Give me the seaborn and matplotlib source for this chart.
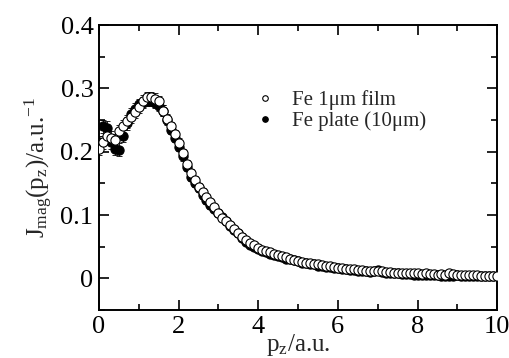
import numpy as np
import pandas as pd
import matplotlib
matplotlib.use("Agg")
import matplotlib.pyplot as plt
import seaborn as sns
from matplotlib.ticker import MultipleLocator
from matplotlib.lines import Line2D

# ---- data ----
pz_film = [round(0.1 * i, 1) for i in range(101)]
j_film = [0.205, 0.215, 0.225, 0.222, 0.218, 0.232, 0.240, 0.248, 0.255, 0.262,
          0.270, 0.280, 0.286, 0.287, 0.284, 0.280, 0.265, 0.252, 0.240, 0.228,
          0.214, 0.198, 0.180, 0.166, 0.155, 0.145, 0.136, 0.128, 0.120, 0.112,
          0.104, 0.096, 0.090, 0.084, 0.078, 0.072, 0.066, 0.060, 0.056, 0.052,
          0.048, 0.045, 0.043, 0.041, 0.039, 0.037, 0.035, 0.033, 0.031, 0.029,
          0.028, 0.026, 0.025, 0.024, 0.023, 0.022, 0.021, 0.020, 0.019, 0.018,
          0.017, 0.016, 0.015, 0.015, 0.014, 0.013, 0.013, 0.012, 0.012, 0.011,
          0.011, 0.012, 0.010, 0.010, 0.009, 0.009, 0.009, 0.008, 0.008, 0.008,
          0.008, 0.007, 0.008, 0.007, 0.007, 0.006, 0.007, 0.006, 0.009, 0.007,
          0.006, 0.006, 0.005, 0.005, 0.005, 0.005, 0.004, 0.004, 0.004, 0.004,
          0.003]
err_film = [0.010, 0.010, 0.010, 0.010, 0.010, 0.010, 0.010, 0.010, 0.009, 0.009,
            0.009, 0.009, 0.008, 0.008, 0.008, 0.008, 0.008, 0.008, 0.007, 0.007,
            0.007, 0.007, 0.007, 0.006, 0.006, 0.006, 0.006, 0.006, 0.006, 0.005,
            0.005, 0.005, 0.005, 0.005, 0.005, 0.005, 0.005, 0.004, 0.004, 0.004,
            0.004, 0.004, 0.004, 0.004, 0.004, 0.004, 0.004, 0.004, 0.004, 0.004,
            0.004, 0.004, 0.004, 0.004, 0.004, 0.004, 0.004, 0.004, 0.004, 0.004,
            0.004, 0.004, 0.004, 0.004, 0.004, 0.004, 0.004, 0.004, 0.004, 0.004,
            0.004, 0.004, 0.004, 0.004, 0.004, 0.004, 0.004, 0.004, 0.004, 0.004,
            0.004, 0.004, 0.004, 0.004, 0.004, 0.004, 0.004, 0.004, 0.004, 0.004,
            0.004, 0.004, 0.004, 0.004, 0.004, 0.004, 0.004, 0.004, 0.004, 0.004,
            0.004]

pz_plate = [round(0.1 * i, 1) for i in range(100)]
j_plate = [0.215, 0.240, 0.238, 0.215, 0.205, 0.203, 0.225, 0.245, 0.260, 0.268,
           0.275, 0.278, 0.280, 0.280, 0.277, 0.272, 0.265, 0.250, 0.235, 0.222,
           0.208, 0.193, 0.176, 0.160, 0.150, 0.142, 0.132, 0.124, 0.116, 0.110,
           0.103, 0.097, 0.090, 0.083, 0.077, 0.071, 0.064, 0.058, 0.053, 0.050,
           0.046, 0.043, 0.041, 0.039, 0.037, 0.035, 0.033, 0.031, 0.030, 0.029,
           0.027, 0.025, 0.024, 0.023, 0.022, 0.020, 0.019, 0.018, 0.018, 0.017,
           0.016, 0.015, 0.014, 0.013, 0.013, 0.012, 0.011, 0.011, 0.010, 0.012,
           0.013, 0.010, 0.009, 0.008, 0.008, 0.008, 0.007, 0.007, 0.007, 0.006,
           0.006, 0.006, 0.005, 0.006, 0.005, 0.005, 0.004, 0.004, 0.004, 0.004,
           0.005, 0.004, 0.004, 0.004, 0.004, 0.004, 0.003, 0.003, 0.003, 0.003]

label_film = "Fe 1\u03bcm film"
label_plate = "Fe plate (10\u03bcm)"
x_ticks = [0, 2, 4, 6, 8, 10]
y_ticks = [0, 0.1, 0.2, 0.3, 0.4]
y_tick_labels = ["0", "0.1", "0.2", "0.3", "0.4"]

df = pd.concat([
    pd.DataFrame({"pz": pz_plate, "J": j_plate, "sample": label_plate}),
    pd.DataFrame({"pz": pz_film, "J": j_film, "sample": label_film}),
])

# ---- style ----
sns.set_theme(style="ticks")
plt.rcParams["font.family"] = ["Liberation Serif", "DejaVu Serif"]
plt.rcParams["mathtext.fontset"] = "custom"
plt.rcParams["mathtext.rm"] = "Liberation Serif"
plt.rcParams["mathtext.it"] = "Liberation Serif:italic"

fig = plt.figure(figsize=(5.10, 3.58), dpi=100)
ax = fig.add_axes([0.194, 0.134, 0.781, 0.796])

# error bars
ax.errorbar(pz_plate, j_plate, yerr=err_film[:100], fmt="none", ecolor="black",
            elinewidth=0.6, capsize=2.5, capthick=0.6, zorder=1)
ax.errorbar(pz_film, j_film, yerr=err_film, fmt="none", ecolor="black",
            elinewidth=0.6, capsize=2.5, capthick=0.6, zorder=1)

sns.scatterplot(data=df[df["sample"] == label_plate], x="pz", y="J", ax=ax,
                color="black", edgecolor="black", s=44, linewidth=0.8,
                zorder=2, legend=False)
sns.scatterplot(data=df[df["sample"] == label_film], x="pz", y="J", ax=ax,
                color="white", edgecolor="black", s=44, linewidth=0.8,
                zorder=3, legend=False)

# legend
handles = [
    Line2D([], [], marker="o", ls="none", mfc="white", mec="black", ms=4, mew=0.8),
    Line2D([], [], marker="o", ls="none", mfc="black", mec="black", ms=4, mew=0.8),
]
ax.legend(handles, [label_film, label_plate], loc="upper left",
          bbox_to_anchor=(0.37, 0.80), frameon=False, fontsize=15,
          handlelength=1.0, handletextpad=0.8, labelspacing=0.05,
          borderaxespad=0)

ax.set_xlim(0, 10)
ax.set_ylim(-0.05, 0.4)
ax.xaxis.set_minor_locator(MultipleLocator(1))
ax.yaxis.set_minor_locator(MultipleLocator(0.05))
ax.set_xticks(x_ticks)
ax.set_xticklabels([str(t) for t in x_ticks])
ax.set_yticks(y_ticks)
ax.set_yticklabels(y_tick_labels)

ax.tick_params(which="both", direction="in", top=True, right=True,
               labelsize=19, colors="black", width=1.2, pad=4)
ax.tick_params(which="major", length=7)
ax.tick_params(which="minor", length=4)
for s in ax.spines.values():
    s.set_linewidth(1.4)
    s.set_color("black")

ax.set_xlabel(r"p$_{\rm z}$/a.u.", fontsize=18, labelpad=-4)
ax.set_ylabel(r"J$_{\rm mag}$(p$_{\rm z}$)/a.u.$^{-1}$", fontsize=18, labelpad=4)

fig.savefig("out.png", dpi=100)
